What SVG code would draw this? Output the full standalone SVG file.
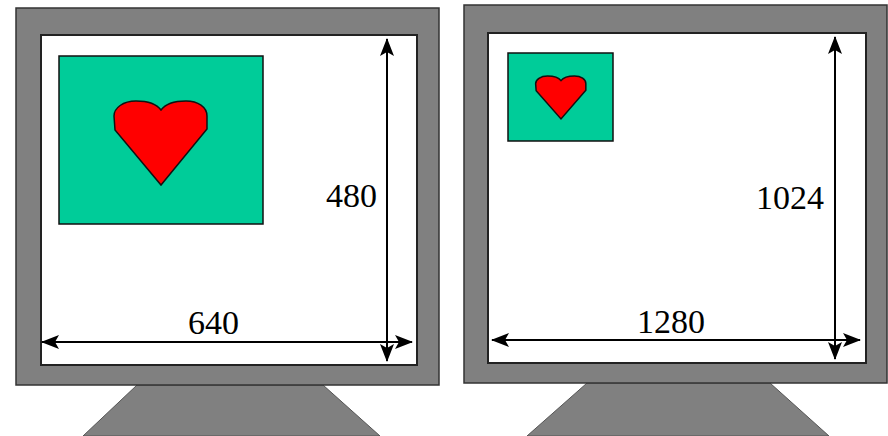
<svg xmlns="http://www.w3.org/2000/svg" xmlns:xlink="http://www.w3.org/1999/xlink" width="888" height="436" viewBox="0 0 888 436">
  <style>
    .case { fill: #808080; stroke: #333; stroke-width: 1.5; }
    .stand { fill: #808080; stroke: #555; stroke-width: 1; }
    .screen { fill: #ffffff; stroke: #222; stroke-width: 2; }
    .image { fill: #00cc99; stroke: #111; stroke-width: 1.5; }
    .heart { fill: #ff0000; stroke: #111; stroke-width: 1.5; }
    .dim { stroke: #000; stroke-width: 2; fill: none; marker-start: url(#tip); marker-end: url(#tip); }
    .label { font-size: 34px; fill: #000; }
  </style>
  <defs>
    <marker id="tip" viewBox="0 0 18 14" refX="17" refY="7" markerWidth="18" markerHeight="14" markerUnits="userSpaceOnUse" orient="auto-start-reverse">
      <path d="M0,0 L18,7 L0,14 L4,7 Z" fill="#000"/>
    </marker>
    <!-- heart outline, origin at the centre of the lobe tops -->
    <path id="heartShape" d="M0,9 C-5,2 -14,0 -25,0 C-38,0 -47,7 -47,15 L-46,29 L0,84 L46,28 L46,15 C46,6 37,0 25,0 C14,0 5,2 0,9 Z"/>
  </defs>

  <!-- 640 x 480 monitor -->
  <g id="monitor-640">
    <polygon class="stand" points="137,385 323,385 380,436 83,436"/>
    <rect class="case" x="16" y="8" width="423" height="377"/>
    <rect class="screen" x="41" y="35" width="376" height="330"/>
    <rect class="image" x="59" y="56" width="204" height="168"/>
    <use xlink:href="#heartShape" class="heart" transform="translate(161,101)"/>
  </g>

  <!-- 1280 x 1024 monitor -->
  <g id="monitor-1280">
    <polygon class="stand" points="587,383 770,383 829,436 527,436"/>
    <rect class="case" x="464" y="5" width="423" height="378"/>
    <rect class="screen" x="488" y="33" width="378" height="330"/>
    <rect class="image" x="508" y="53" width="105" height="88"/>
    <use xlink:href="#heartShape" class="heart" style="stroke-width:2.8" transform="translate(561,76) scale(0.54,0.51)"/>
  </g>

  <!-- dimension arrows -->
  <g id="connectors">
    <line class="dim" x1="387" y1="39" x2="387" y2="361"/>
    <line class="dim" x1="42" y1="342" x2="412" y2="342"/>
    <line class="dim" x1="835" y1="37" x2="835" y2="359"/>
    <line class="dim" x1="492" y1="340" x2="860" y2="340"/>
  </g>

  <g id="labels" font-family="'Liberation Serif', 'DejaVu Serif', serif">
    <text class="label" x="326" y="207">480</text>
    <text class="label" x="188" y="334">640</text>
    <text class="label" x="756" y="209">1024</text>
    <text class="label" x="637" y="333">1280</text>
  </g>
</svg>
